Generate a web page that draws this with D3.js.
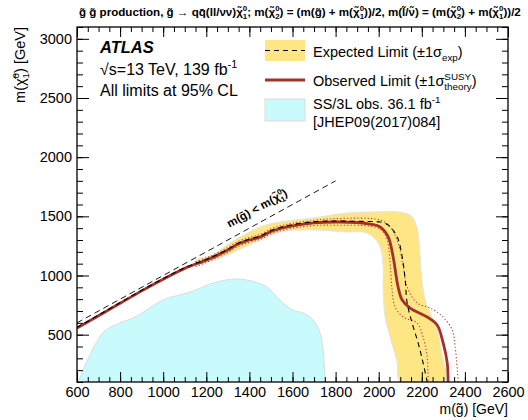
<!DOCTYPE html>
<html><head><meta charset="utf-8">
<script src="https://cdn.jsdelivr.net/npm/d3@7"></script>
<style>body{margin:0;background:#fff}svg{display:block;font-family:"Liberation Sans",Arial,sans-serif}</style>
</head><body><svg id="c" width="528" height="420"></svg>
<script>
// ---------- data ----------
const xTicks = [600,800,1000,1200,1400,1600,1800,2000,2200,2400,2600];
const yTicks = [500,1000,1500,2000,2500,3000];

const ss3lX = [605,720,800,860,925,1000,1125,1230,1325,1390,1480,1540,1600,1650,1695,1728,1742,1752];
const ss3lY = [100,515,600,640,710,795,860,935,970,962,905,795,710,683,625,515,370,100];

const obsX = [600,700,800,900,1000,1100,1200,1250,1300,1350,1400,1450,1500,1550,1600,1700,1800,1900,1960,2007,2044,2067,2090,2109,2146,2225,2271,2299,2318,2322];
const obsY = [556,660,765,870,968,1060,1130,1170,1215,1268,1300,1326,1372,1400,1420,1444,1452,1448,1435,1410,1326,1157,903,793,725,649,582,430,261,100];

const expX = [600,700,800,900,1000,1100,1200,1250,1300,1350,1400,1450,1500,1550,1600,1700,1800,1900,1960,2007,2044,2086,2109,2123,2132,2155,2183,2206,2225];
const expY = [562,666,771,876,974,1066,1136,1176,1222,1275,1308,1334,1380,1410,1430,1455,1460,1458,1456,1452,1427,1326,1157,962,768,599,430,261,100];

const bandUpX = [1150,1231,1296,1450,1542,1696,1853,1974,2086,2146,2169,2183,2192,2202,2216,2239,2271,2290,2304];
const bandUpY = [1125,1175,1258,1410,1452,1486,1528,1537,1537,1512,1452,1359,1157,937,793,683,540,370,100];
const bandLoX = [2100,2086,2053,2030,2021,2021,2007,1974,1928,1853,1696,1542,1450,1296,1231,1150];
const bandLoY = [100,261,480,649,878,1072,1241,1326,1368,1368,1385,1368,1300,1173,1130,1090];

const thUpX = [1150,1200,1250,1300,1350,1400,1450,1500,1550,1600,1700,1775,2007,2053,2090,2114,2132,2178,2239,2299,2341,2355,2369];
const thUpY = [1115,1150,1190,1236,1290,1322,1348,1394,1422,1442,1466,1478,1469,1410,1275,1072,903,768,725,649,540,396,100];
const thDnX = [1150,1200,1250,1300,1350,1400,1450,1500,1550,1600,1700,1775,2007,2039,2053,2062,2076,2114,2178,2206,2225,2229];
const thDnY = [1075,1110,1150,1195,1248,1280,1306,1352,1380,1400,1422,1425,1393,1300,1106,878,734,649,599,480,311,100];

const diagX = [600,1800];
const diagY = [600,1800];

// ---------- setup ----------
const svg = d3.select('#c');
const L=77, R=508, T=27, B=382;
const x = d3.scaleLinear().domain([600,2600]).range([L,R]);
const y = d3.scaleLinear().domain([100,3100]).range([B,T]);
const zip = (a,b)=>a.map((v,i)=>[v,b[i]]);
const line = d3.line().x(d=>x(d[0])).y(d=>y(d[1])).curve(d3.curveCatmullRom.alpha(0.5));

svg.append('defs').append('clipPath').attr('id','clip')
  .append('rect').attr('x',L).attr('y',T).attr('width',R-L).attr('height',B-T);
const plot = svg.append('g').attr('clip-path','url(#clip)');

// SS/3L region
plot.append('path').attr('d', line(zip(ss3lX,ss3lY)))
  .attr('fill','#c9fafc').attr('stroke','#dcdcdc').attr('stroke-width',1);

// yellow band
const bandPts = zip(bandUpX,bandUpY).concat(zip(bandLoX,bandLoY));
plot.append('path').attr('d', d3.line().x(d=>x(d[0])).y(d=>y(d[1])).curve(d3.curveCatmullRomClosed.alpha(0.5))(bandPts))
  .attr('fill','#fde683').attr('stroke','#e4e4e4').attr('stroke-width',1);

// diagonal
plot.append('path').attr('d', d3.line().x(d=>x(d[0])).y(d=>y(d[1]))(zip(diagX,diagY)))
  .attr('fill','none').attr('stroke','#000').attr('stroke-width',0.9).attr('stroke-dasharray','6,4');

// theory dotted
[[thUpX,thUpY],[thDnX,thDnY]].forEach(([a,b])=>{
  plot.append('path').attr('d', line(zip(a,b)))
    .attr('fill','none').attr('stroke','#c0392f').attr('stroke-width',1.1).attr('stroke-dasharray','1.2,2.2');
});

// observed
plot.append('path').attr('d', line(zip(obsX,obsY)))
  .attr('fill','none').attr('stroke','#a3302b').attr('stroke-width',2.8);
// expected
plot.append('path').attr('d', line(zip(expX,expY)))
  .attr('fill','none').attr('stroke','#000').attr('stroke-width',1.1).attr('stroke-dasharray','5,4');

// ---------- rich text helper ----------
function rich(t, parts, fs){
  let cur = 0;
  const sm = fs*0.68;
  let pendingDx = 0;
  parts.forEach(p=>{
    const [txt, mode, txt2] = p;
    const target = mode==='sub' ? fs*0.28 : mode==='sup' ? -fs*0.42 : 0;
    if(mode==='stack'){
      const a = t.append('tspan').text(txt).attr('font-size',sm).attr('dy',-fs*0.42-cur).attr('dx',pendingDx||null);
      cur = -fs*0.42;
      const la = a.node().getComputedTextLength();
      const b = t.append('tspan').text(txt2).attr('font-size',sm).attr('dx',-la).attr('dy',fs*0.3-cur);
      cur = fs*0.3;
      const lb = b.node().getComputedTextLength();
      pendingDx = Math.max(0, la-lb);
      return;
    }
    const ts = t.append('tspan').text(txt).attr('dy',target-cur);
    if(pendingDx) ts.attr('dx',pendingDx);
    pendingDx = 0;
    if(mode) ts.attr('font-size',sm);
    cur = target;
  });
  return t;
}
const g = '\u0067\u0303', chi = '\u03C7\u0303';

// diagonal label
const ang = Math.atan2(y(600)-y(1800), x(1800)-x(600))*180/Math.PI;
const dl = svg.append('text').attr('font-weight','bold').attr('font-size',11.5)
  .attr('transform',`translate(${x(1330)},${y(1330)}) rotate(${-ang}) translate(0,-10)`);
rich(dl, [['m('+g+') < m('+chi,''],['0','stack','1'],[')','']], 11.5);

// ---------- axes ----------
const ax = svg.append('g').attr('font-size',14.5);
function minorVals(lo,hi,step){const r=[];for(let v=lo;v<=hi+1e-9;v+=step)r.push(v);return r;}
const xMinor = minorVals(600,2600,50), yMinor = minorVals(100,3100,100);
function styleAxis(gsel){gsel.select('.domain').remove();gsel.selectAll('line').attr('stroke','#000').attr('stroke-width',1);}
ax.append('g').attr('transform',`translate(0,${B})`).call(d3.axisBottom(x).tickValues(xMinor).tickSize(-5).tickFormat('')).call(styleAxis);
ax.append('g').attr('transform',`translate(0,${B})`).call(d3.axisBottom(x).tickValues(xTicks).tickSize(-10).tickPadding(15).tickFormat(d3.format('d'))).call(styleAxis)
  .selectAll('text').attr('font-size',14.5).attr('font-family','Liberation Sans, Arial').attr('fill','#000').attr('dy','0');
ax.append('g').attr('transform',`translate(0,${T})`).call(d3.axisTop(x).tickValues(xMinor).tickSize(-5).tickFormat('')).call(styleAxis);
ax.append('g').attr('transform',`translate(0,${T})`).call(d3.axisTop(x).tickValues(xTicks).tickSize(-10).tickFormat('')).call(styleAxis);
ax.append('g').attr('transform',`translate(${L},0)`).call(d3.axisLeft(y).tickValues(yMinor).tickSize(-6).tickFormat('')).call(styleAxis);
ax.append('g').attr('transform',`translate(${L},0)`).call(d3.axisLeft(y).tickValues(yTicks).tickSize(-12).tickPadding(5).tickFormat(d3.format('d'))).call(styleAxis)
  .selectAll('text').attr('font-size',14.5).attr('font-family','Liberation Sans, Arial').attr('fill','#000');
ax.append('g').attr('transform',`translate(${R},0)`).call(d3.axisRight(y).tickValues(yMinor).tickSize(-6).tickFormat('')).call(styleAxis);
ax.append('g').attr('transform',`translate(${R},0)`).call(d3.axisRight(y).tickValues(yTicks).tickSize(-12).tickFormat('')).call(styleAxis);
svg.append('rect').attr('x',L).attr('y',T).attr('width',R-L).attr('height',B-T)
  .attr('fill','none').attr('stroke','#000').attr('stroke-width',1.3);

// axis titles
const xt = svg.append('text').attr('x',R).attr('y',414).attr('text-anchor','end').attr('font-size',14);
rich(xt, [['m('+g+') [GeV]','']], 14);
const yt = svg.append('text').attr('transform',`translate(25,${T}) rotate(-90)`).attr('text-anchor','end').attr('font-size',14.5);
rich(yt, [['m('+chi,''],['0','stack','1'],[') [GeV]','']], 14.5);

// title
const tt = svg.append('text').attr('x',L+2).attr('y',16).attr('font-weight','bold').attr('font-size',11.6);
rich(tt, [[g+' '+g+' production, '+g+' \u2192 qq\u0304(ll/\u03BD\u03BD)'+chi,''],['0','stack','1'],
  ['; m('+chi,''],['0','stack','2'],[') = (m('+g+') + m('+chi,''],['0','stack','1'],
  ['))/2, m(l\u0303/\u03BD\u0303) = (m('+chi,''],['0','stack','2'],[') + m('+chi,''],['0','stack','1'],['))/2','']], 11.6);

// ATLAS label
svg.append('text').attr('x',100).attr('y',53).attr('font-weight','bold').attr('font-style','italic').attr('font-size',16.5).text('ATLAS');
const t2 = svg.append('text').attr('x',100).attr('y',75).attr('font-size',16);
rich(t2, [['\u221As=13 TeV, 139 fb',''],['-1','sup'],['','']], 16);
svg.append('text').attr('x',100).attr('y',96).attr('font-size',16).text('All limits at 95% CL');

// legend
const lg = svg.append('g');
lg.append('rect').attr('x',265).attr('y',40).attr('width',40).attr('height',21).attr('fill','#fde683');
lg.append('line').attr('x1',265).attr('x2',305).attr('y1',50.5).attr('y2',50.5).attr('stroke','#000').attr('stroke-width',1.1).attr('stroke-dasharray','5,4');
rich(lg.append('text').attr('x',313).attr('y',57).attr('font-size',14.5), [['Expected Limit (\u00B11\u03C3',''],['exp','sub'],[')','']], 14.5);
lg.append('line').attr('x1',265).attr('x2',305).attr('y1',80).attr('y2',80).attr('stroke','#a3302b').attr('stroke-width',2.8);
rich(lg.append('text').attr('x',313).attr('y',86).attr('font-size',14.5), [['Observed Limit (\u00B11\u03C3',''],['SUSY','stack','theory'],[')','']], 14.5);
lg.append('rect').attr('x',265).attr('y',99).attr('width',40).attr('height',22).attr('fill','#c9fafc').attr('stroke','#dcdcdc');
rich(lg.append('text').attr('x',313).attr('y',109).attr('font-size',14.5), [['SS/3L obs. 36.1 fb',''],['-1','sup'],['','']], 14.5);
lg.append('text').attr('x',313).attr('y',127).attr('font-size',14.5).text('[JHEP09(2017)084]');
</script></body></html>
